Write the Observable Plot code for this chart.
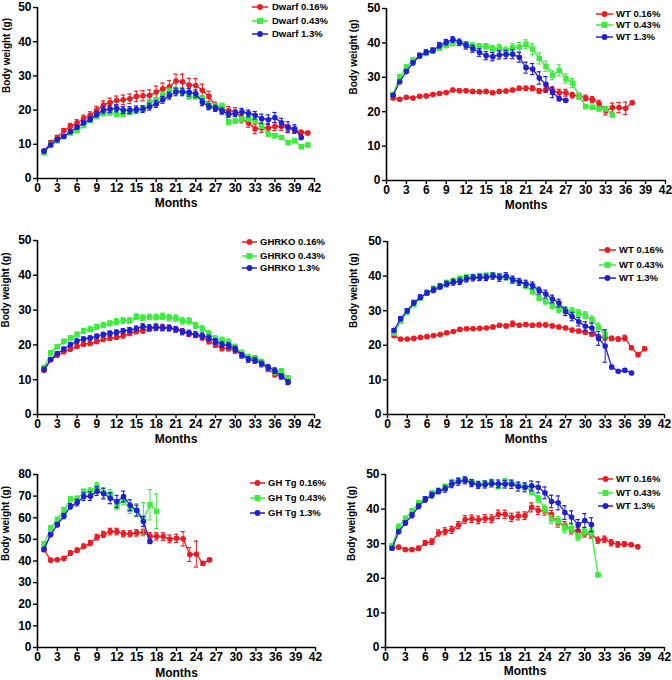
<!DOCTYPE html>
<html><head><meta charset="utf-8">
<script src="https://cdn.jsdelivr.net/npm/d3@7"></script>
<script src="https://cdn.jsdelivr.net/npm/@observablehq/plot@0.6"></script>
<style>
body{margin:0;background:#fff;}
#root{position:relative;width:672px;height:680px;font-family:"Liberation Sans",Arial,sans-serif;}
.panel{position:absolute;}
.legend{position:absolute;left:0;top:0;}
</style></head><body><div id="root"></div>
<script>
// ---------- data ----------
const xTicks = [0,3,6,9,12,15,18,21,24,27,30,33,36,39,42];
const yTicks50 = [0,10,20,30,40,50];
const yTicks80 = [0,10,20,30,40,50,60,70,80];
const colors = ["#ec1c24","#3ded3d","#1f1fd6"];
const yLabel = "Body weight (g)";
const xLabel = "Months";

// Panel 1: Dwarf
const dwarfLabels = ["Dwarf 0.16%","Dwarf 0.43%","Dwarf 1.3%"];
const dwarfLow = [8,10.5,12,14,15.3,16.3,17.5,18.5,20,21.5,22.2,22.8,23,23.3,24,24.2,24.3,25.3,26.2,26.8,28.5,28.3,27.3,27.2,25.8,24,21,20.3,19.8,19.5,17.5,16.2,14.5,14.8,14.8,15.2,15.3,14.8,14,13.5,13.3];
const dwarfLowErr = [0.3,0.5,0.6,0.6,0.8,0.9,1,1,1.1,1.2,1.3,1.3,1.4,1.4,1.5,1.5,1.6,1.7,1.7,1.8,2,2.2,2,2,1.8,1.5,1.3,1.2,1.2,1.2,1.2,1.2,1.4,1.3,1.3,1.2,1.2,1,0.8,0.6,0.5];
const dwarfMid = [7.5,9.8,11,12.3,13.3,14,15.5,17,18.2,19,19.2,18.8,18.8,19.3,19.8,20.3,22.3,22.8,24.3,25.5,25.8,25.5,24,24,23.5,21.3,21.2,21.2,16.5,16.8,17.3,17.5,16.8,15.3,13,12.5,12,10.5,11,9.3,9.8];
const dwarfMidErr = [0.3,0.4,0.4,0.4,0.5,0.5,0.5,0.6,0.6,0.6,0.6,0.6,0.6,0.6,0.7,0.7,0.8,0.8,0.8,0.9,0.9,0.9,0.8,0.8,0.8,0.8,0.8,0.8,0.7,0.7,0.7,0.7,0.7,0.6,0.6,0.6,0.5,0.5,0.5,0.5,0.5];
const dwarfHigh = [8,9.8,11.3,12.3,13.7,15,16.3,17.3,18.8,20,20.3,20.5,20,20,20.2,20.3,21,21.8,23,24.2,25.3,25.3,25.2,24.8,22.3,21,20.5,19.7,18.8,19,19.5,19,18.5,17.5,17.2,17.8,16.3,15,14.5,12];
const dwarfHighErr = [0.3,0.4,0.4,0.5,0.5,0.6,0.6,0.7,0.8,0.9,1,1,1,1,1,1,1,1,1,1,1.1,1.1,1.1,1.1,1,0.9,0.9,0.9,0.9,0.9,1,1,1.1,1.3,1.4,1.5,1.3,1.6,1.2,0.6];

// Panel 2: WT (dwarf controls)
const wt1Labels = ["WT 0.16%","WT 0.43%","WT 1.3%"];
const wt1Low = [24,23.6,24.2,24,24.5,24.6,25,25.3,25.6,26.3,26.1,26.1,25.9,25.8,25.9,25.5,25.9,26,26.3,26.8,26.8,26.8,26,26.5,26.2,25.5,25.5,24.8,24.5,24,23.5,22.3,20.3,21.2,21.2,21,22.6];
const wt1LowErr = [0.4,0.4,0.4,0.4,0.4,0.4,0.4,0.4,0.4,0.5,0.5,0.5,0.5,0.5,0.5,0.5,0.5,0.5,0.5,0.6,0.6,0.7,0.7,0.9,1,1,1,0.8,0.8,0.8,0.9,1,1.2,1.3,1.5,1.8,0.5];
const wt1Mid = [25,30.2,33,35,36.3,37,37.8,38.5,39.3,40,40,39.6,39.2,39,39,38.3,38.5,37.8,38.6,38.8,39.6,38.2,35.5,33.2,30.6,32,29.7,28.3,24.6,21.5,21.3,20.8,20.8,19];
const wt1MidErr = [0.4,0.5,0.6,0.6,0.6,0.7,0.7,0.7,0.7,0.8,0.8,0.8,0.8,0.8,0.8,0.9,1,1,1.2,1.3,1.3,1.5,1.6,1.5,1.3,1.6,1.3,1.3,0.8,0.5,0.5,0.5,0.5,0.4];
const wt1High = [24.8,28.7,31.7,34.2,36.3,37.3,37.8,39.3,40.2,41,40.2,39.2,38.3,37.2,36.3,36,36.5,36.6,36.7,35.8,32.8,32.4,29.8,28,25.6,23.8,23.3];
const wt1HighErr = [0.4,0.5,0.6,0.6,0.7,0.7,0.7,0.8,0.8,0.8,0.9,1,1,1.1,1.2,1.2,1.2,1.2,1.3,1.4,1.6,1.6,1.8,2.2,1.5,0.6,0.5];

// Panel 3: GHRKO
const ghrkoLabels = ["GHRKO 0.16%","GHRKO 0.43%","GHRKO 1.3%"];
const ghrkoLow = [12.7,15.7,17,18,18.8,19.6,20.2,20.4,21,21.6,21.9,22.2,22.6,23.3,23.9,24.1,24.6,25.1,25,24.8,24.4,24,23.1,22.8,22.1,21,20,19,19,18.3,17.3,16.3,16.2,15,13,11.5,10.8,10];
const ghrkoLowErr = [0.5,0.5,0.5,0.5,0.6,0.6,0.6,0.6,0.6,0.6,0.6,0.6,0.6,0.6,0.7,0.7,0.7,1,0.9,0.8,0.7,0.7,0.7,0.7,0.7,0.7,0.7,0.7,0.7,0.7,0.7,0.7,0.7,0.7,0.7,0.7,0.6,0.6];
const ghrkoMid = [13.5,17.7,19.5,21,22,23,24,24.5,25.2,25.7,26.2,26.7,27,27,28.1,27.8,28,28,28.2,27.8,27.7,26.9,26.9,25.6,24.6,23.2,21.8,21.3,20.8,19.3,17.7,16.5,16,15,13.5,12.3,12.5,10.5];
const ghrkoMidErr = [0.5,0.6,0.6,0.6,0.6,0.7,0.7,0.7,0.7,0.7,0.7,0.8,0.8,0.8,0.8,0.8,0.8,0.8,0.9,0.9,0.9,0.9,0.9,0.9,0.9,0.9,0.9,0.9,0.9,0.9,0.8,0.8,0.8,0.9,0.9,0.9,0.7,0.6];
const ghrkoHigh = [13,15.8,17.5,18.8,20.1,21.1,21.7,22,22.5,23,23.3,23.6,24,24.3,24.7,25.3,25,25,24.9,24.9,24.5,23.7,23.4,23,22.6,22,21,20.1,19.8,18.8,17,15.8,15.5,14.5,13.5,12.6,11,9.3];
const ghrkoHighErr = [0.5,0.5,0.5,0.5,0.6,0.6,0.6,0.6,0.6,0.6,0.7,0.7,0.7,0.7,0.7,0.8,0.8,0.8,0.8,0.8,0.8,0.8,0.8,0.8,0.8,0.8,0.8,0.8,0.8,0.8,0.8,0.8,0.8,0.8,0.8,0.8,0.7,0.7];

// Panel 4: WT (GHRKO controls)
const wt2Labels = ["WT 0.16%","WT 0.43%","WT 1.3%"];
const wt2Low = [22.8,21.8,21.8,22,22.3,22.5,22.8,23.1,23.6,24,24.6,24.8,24.8,24.9,25,25.3,25.8,25.6,26.2,25.8,26,25.8,25.9,25.9,25.6,25.3,25,24.4,24.1,23.8,23.2,22.5,22.2,22,21.8,22.1,19.3,17.3,19];
const wt2LowErr = [0.4,0.4,0.4,0.4,0.4,0.4,0.4,0.4,0.4,0.4,0.4,0.4,0.4,0.4,0.4,0.5,0.5,0.5,0.8,0.5,0.5,0.5,0.5,0.5,0.5,0.5,0.5,0.5,0.5,0.5,0.5,0.6,0.7,0.6,0.6,0.8,0.5,0.5,0.5];
const wt2Mid = [23.5,27,29.6,31.8,33.7,35.2,36.4,37,38.1,38.7,39.3,39.7,39.8,40.1,40.2,40.3,40.1,39.6,38.7,38.5,37.2,35.6,33.7,32.7,31.5,30.4,30.1,29.9,29.3,28.7,27.4,25.2,23.2];
const wt2MidErr = [0.4,0.5,0.6,0.6,0.6,0.6,0.7,0.7,0.7,0.7,0.7,0.7,0.7,0.7,0.7,0.7,0.7,0.7,0.8,0.8,0.8,0.8,0.8,0.8,0.9,0.9,0.9,1,1,1,1.1,1.2,1.2];
const wt2High = [24.3,27.7,30,32.3,33.9,35.2,36,37,37.7,38.2,38.5,39.2,39.5,39.6,39.6,40,39.5,40,39,38.3,37.8,37.3,35.8,34.8,33.4,32.2,29.8,28.3,26.8,25.5,25,22,19.8,13.7,12.5,12.8,12];
const wt2HighErr = [0.5,0.6,0.6,0.7,0.7,0.7,0.8,0.8,0.8,0.8,0.9,0.9,0.9,0.9,0.9,0.9,1,1,1,1,1,1,1,1.1,1.1,1.1,1.2,1.2,1.2,1.3,1.4,2,4.7,0.5,0.4,0.4,0.4];

// Panel 5: GH Tg
const ghtgLabels = ["GH Tg 0.16%","GH Tg 0.43%","GH Tg 1.3%"];
const ghtgLow = [45.2,40.4,40.6,41.2,43.7,45,46.8,48.3,51,52.3,53.6,53.6,52.6,52.6,53,53.2,51.5,51.4,51.3,50.2,50.5,50.3,43,43.2,38.9,40.5];
const ghtgLowErr = [0.8,0.7,0.7,0.8,1,1,1.1,1.2,1.3,1.4,1.5,1.5,1.4,1.4,1.5,1.5,1.6,1.7,1.8,1.8,1.9,3.3,3.2,6,0.8,0.8];
const ghtgMid = [48,55.2,59.2,63.5,68.6,68.8,72,72.3,74.5,71.5,71,65.5,68,64,63.5,59.5,66,63];
const ghtgMidErr = [0.8,1,1,1.2,1.2,1.3,1.3,1.5,1.8,2,2,1.8,2,2,3,7.5,7,8];
const ghtgHigh = [45.5,52.2,56.8,60.8,65.3,67,69.8,70,72.3,71.2,69,67.5,69.8,65.8,63.3,58.3,49];
const ghtgHighErr = [0.8,1,1,1.2,1.3,1.5,1.8,2,2,2.5,2.5,2.8,2.5,2.5,2.5,2.3,0.8];

// Panel 6: WT (GH Tg controls)
const wt3Labels = ["WT 0.16%","WT 0.43%","WT 1.3%"];
const wt3Low = [29,29,28.3,28.3,28.7,30.2,30.6,33.1,33.6,34,35.4,37,37.2,36.9,37.3,37.2,38.5,38.5,37.6,38,38.1,40.5,39.6,39.5,38.4,36,35.3,33.8,33.7,32.9,32.6,31,31.3,30.3,29.8,29.9,29.7,29.1];
const wt3LowErr = [0.5,0.5,0.5,0.5,0.6,0.7,0.8,0.9,1,1,1,1.1,1.1,1.1,1.1,1.1,1.2,1.2,1.2,1.1,1.1,1.3,1.2,1.2,1.2,1.2,1.1,1,1,1,1,0.9,0.9,0.9,0.8,0.7,0.5,0.5];
const wt3Mid = [29.5,35,37.3,39.5,41.8,42.8,44.7,45.2,46.5,47.9,48.3,48.5,47.8,47.1,47.4,47.8,46.6,48,47.5,46.8,46.5,45,43,40,37,36.5,34.5,34.3,32,33.5,33.3,21];
const wt3MidErr = [0.5,0.6,0.6,0.6,0.6,0.6,0.6,0.6,0.7,0.7,0.7,0.7,0.8,0.8,0.8,0.8,0.8,0.8,0.8,0.8,0.9,0.9,1,1.2,1.2,1.3,1.2,1.2,1,1,1,0.5];
const wt3High = [28.7,33.5,36,38.2,40.8,42.8,44,45.2,45.8,47.2,47.9,48.3,47.5,47,47.1,47.4,47.3,47.2,47.2,46.5,46.3,46.7,46.3,44.7,42.2,41.8,39,37.7,35.5,36.7,35.5];
const wt3HighErr = [0.5,0.6,0.6,0.7,0.7,0.8,0.8,0.8,0.9,1,1,1,1,1,1,1,1.1,1.1,1.2,1.3,1.3,1.4,1.6,1.7,1.8,2,2,1.8,1.5,2,2];

// ---------- layout ----------
const panels = [
  {left:0,top:0,w:336,h:225,mL:37,mT:7,mR:22,mB:47,ymax:50,yTicks:yTicks50,labels:dwarfLabels,
   series:[[dwarfLow,dwarfLowErr],[dwarfMid,dwarfMidErr],[dwarfHigh,dwarfHighErr]],
   lg:{x1:252,x2:268,tx:272,rows:[7,21,34]},monthsDy:25,ylabDx:-31},
  {left:336,top:0,w:336,h:225,mL:50,mT:8,mR:7,mB:45,ymax:50,yTicks:yTicks50,labels:wt1Labels,
   series:[[wt1Low,wt1LowErr],[wt1Mid,wt1MidErr],[wt1High,wt1HighErr]],
   lg:{x1:260,x2:277,tx:280,rows:[14,25,37]},monthsDy:25,ylabDx:-33},
  {left:0,top:225,w:336,h:225,mL:37,mT:15,mR:22,mB:36,ymax:50,yTicks:yTicks50,labels:ghrkoLabels,
   series:[[ghrkoLow,ghrkoLowErr],[ghrkoMid,ghrkoMidErr],[ghrkoHigh,ghrkoHighErr]],
   lg:{x1:242,x2:257,tx:260,rows:[17,31,43]},monthsDy:25,ylabDx:-32},
  {left:336,top:225,w:336,h:225,mL:51,mT:16,mR:8,mB:36,ymax:50,yTicks:yTicks50,labels:wt2Labels,
   series:[[wt2Low,wt2LowErr],[wt2Mid,wt2MidErr],[wt2High,wt2HighErr]],
   lg:{x1:263,x2:280,tx:283,rows:[25,40,53]},monthsDy:25,ylabDx:-34},
  {left:0,top:450,w:336,h:230,mL:37,mT:24,mR:21,mB:33,ymax:80,yTicks:yTicks80,labels:ghtgLabels,
   series:[[ghtgLow,ghtgLowErr],[ghtgMid,ghtgMidErr],[ghtgHigh,ghtgHighErr]],
   lg:{x1:250,x2:265,tx:268,rows:[33,48,63]},monthsDy:26,ylabDx:-32},
  {left:336,top:450,w:336,h:230,mL:49,mT:24,mR:8,mB:33,ymax:50,yTicks:yTicks50,labels:wt3Labels,
   series:[[wt3Low,wt3LowErr],[wt3Mid,wt3MidErr],[wt3High,wt3HighErr]],
   lg:{x1:262,x2:277,tx:280,rows:[29,43,56]},monthsDy:24,ylabDx:-34}
];
const symbols = ["circle","square","circle"];
const radii = [2.8,3.1,2.8];

const root = document.getElementById("root");
const font = "'Liberation Sans', Arial, sans-serif";

panels.forEach(p => {
  const marks = [];
  p.series.forEach(([vals, errs], i) => {
    const rows = vals.map((v, j) => ({m: j + 1, v, e: errs[j]}));
    const c = colors[i];
    marks.push(Plot.ruleX(rows, {x: "m", y1: d => d.v - d.e, y2: d => d.v + d.e, stroke: c, strokeWidth: 1}));
    marks.push(Plot.ruleY(rows, {y: d => d.v + d.e, x1: d => d.m - 0.32, x2: d => d.m + 0.32, stroke: c, strokeWidth: 1.2}));
    marks.push(Plot.ruleY(rows, {y: d => d.v - d.e, x1: d => d.m - 0.32, x2: d => d.m + 0.32, stroke: c, strokeWidth: 1.2}));
    marks.push(Plot.line(rows, {x: "m", y: "v", stroke: c, strokeWidth: 1.3}));
    marks.push(Plot.dot(rows, {x: "m", y: "v", fill: c, stroke: "none", symbol: symbols[i], r: radii[i]}));
  });
  marks.push(Plot.ruleX([0], {stroke: "#000", strokeWidth: 1.6}));
  marks.push(Plot.ruleY([0], {stroke: "#000", strokeWidth: 1.6}));
  marks.push(Plot.axisX({ticks: xTicks, tickSize: 4, tickPadding: 1, fontSize: 12, fontWeight: "bold", label: null, strokeWidth: 1.4}));
  marks.push(Plot.axisY({ticks: p.yTicks, tickSize: 4, tickPadding: 2, fontSize: 12, fontWeight: "bold", label: null, strokeWidth: 1.4}));
  marks.push(Plot.text([xLabel], {frameAnchor: "bottom", dy: p.monthsDy, fontSize: 12, fontWeight: "bold", lineAnchor: "middle"}));
  marks.push(Plot.text([yLabel], {frameAnchor: "left", rotate: -90, dx: p.ylabDx, fontSize: 10, fontWeight: "bold"}));

  const svg = Plot.plot({
    width: p.w, height: p.h,
    marginLeft: p.mL, marginTop: p.mT, marginRight: p.mR, marginBottom: p.mB,
    style: {fontFamily: font, color: "#000", background: "transparent", overflow: "visible"},
    x: {domain: [0, 42]},
    y: {domain: [0, p.ymax]},
    marks
  });
  const div = document.createElement("div");
  div.className = "panel";
  div.style.left = p.left + "px";
  div.style.top = p.top + "px";
  div.style.width = p.w + "px";
  div.style.height = p.h + "px";
  div.appendChild(svg);

  // legend
  const lg = d3.create("svg").attr("class", "legend").attr("width", p.w).attr("height", 80);
  p.labels.forEach((lab, i) => {
    const y = p.lg.rows[i];
    const c = colors[i];
    lg.append("line").attr("x1", p.lg.x1).attr("x2", p.lg.x2).attr("y1", y).attr("y2", y).attr("stroke", c).attr("stroke-width", 1.5);
    const cx = (p.lg.x1 + p.lg.x2) / 2;
    if (symbols[i] === "square") {
      lg.append("rect").attr("x", cx - 3).attr("y", y - 3).attr("width", 6).attr("height", 6).attr("fill", c);
    } else {
      lg.append("circle").attr("cx", cx).attr("cy", y).attr("r", 2.9).attr("fill", c);
    }
    lg.append("text").attr("x", p.lg.tx).attr("y", y).attr("dy", "0.35em")
      .attr("font-family", font).attr("font-weight", "bold").attr("font-size", 9.5).attr("fill", "#000").text(lab);
  });
  div.appendChild(lg.node());
  root.appendChild(div);
});
</script></body></html>
